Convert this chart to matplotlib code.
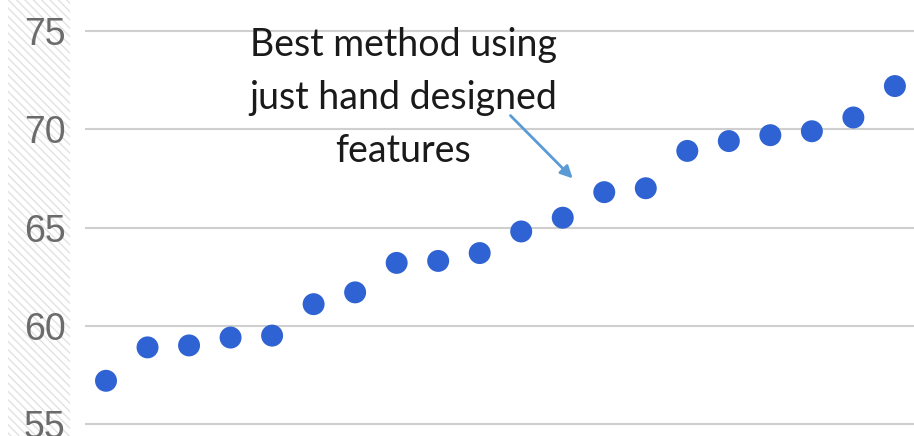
import matplotlib.pyplot as plt
from matplotlib.patches import Rectangle

# scores of each method, sorted low to high
methods = list(range(1, 21))
scores = [57.2, 58.9, 59.0, 59.4, 59.5, 61.1, 61.7, 63.2, 63.3, 63.7,
          64.8, 65.5, 66.8, 67.0, 68.9, 69.4, 69.7, 69.9, 70.6, 72.2]
yticks = [55, 60, 65, 70, 75]

note = "Best method using\njust hand designed\nfeatures"
arrow_tail = (10.74, 70.7)
arrow_head = (12.24, 67.5)

fig = plt.figure(figsize=(9.14, 4.36), dpi=100)
fig.patch.set_facecolor('white')

# hatched strip behind the y labels
fig.patches.append(Rectangle((8 / 914, 0), 62 / 914, 1, transform=fig.transFigure,
                             facecolor='white', edgecolor='#e2e2e2', hatch='\\\\\\\\',
                             linewidth=0, zorder=-1))

ax = fig.add_axes([85 / 914, 0, 1 - 85 / 914, 1])
ax.set_facecolor('none')
ax.set_xlim(0.494, 20.46)
ax.set_ylim(54.39, 76.58)

ax.set_yticks(yticks)
ax.set_xticks([])
ax.grid(axis='y', color='#cfcfcf', linewidth=1.5)
ax.set_axisbelow(True)
for s in ax.spines.values():
    s.set_visible(False)
ax.tick_params(axis='y', length=0, pad=14, labelsize=27, labelcolor='#6b6b6b')
for lab in ax.get_yticklabels():
    lab.set_family('Liberation Sans')

ax.scatter(methods, scores, s=250, color='#2f62d2', edgecolors='none', zorder=3)

ax.text(0.384, 0.938, note, transform=ax.transAxes, ha='center', va='top',
        fontsize=27, family='Lato', color='#1a1a1a', linespacing=1.58)
ax.annotate('', xy=arrow_head, xytext=arrow_tail,
            arrowprops=dict(arrowstyle='-|>', color='#5b9bd5', lw=2,
                            mutation_scale=18, shrinkA=0, shrinkB=0))

fig.savefig('out.png', dpi=100)
